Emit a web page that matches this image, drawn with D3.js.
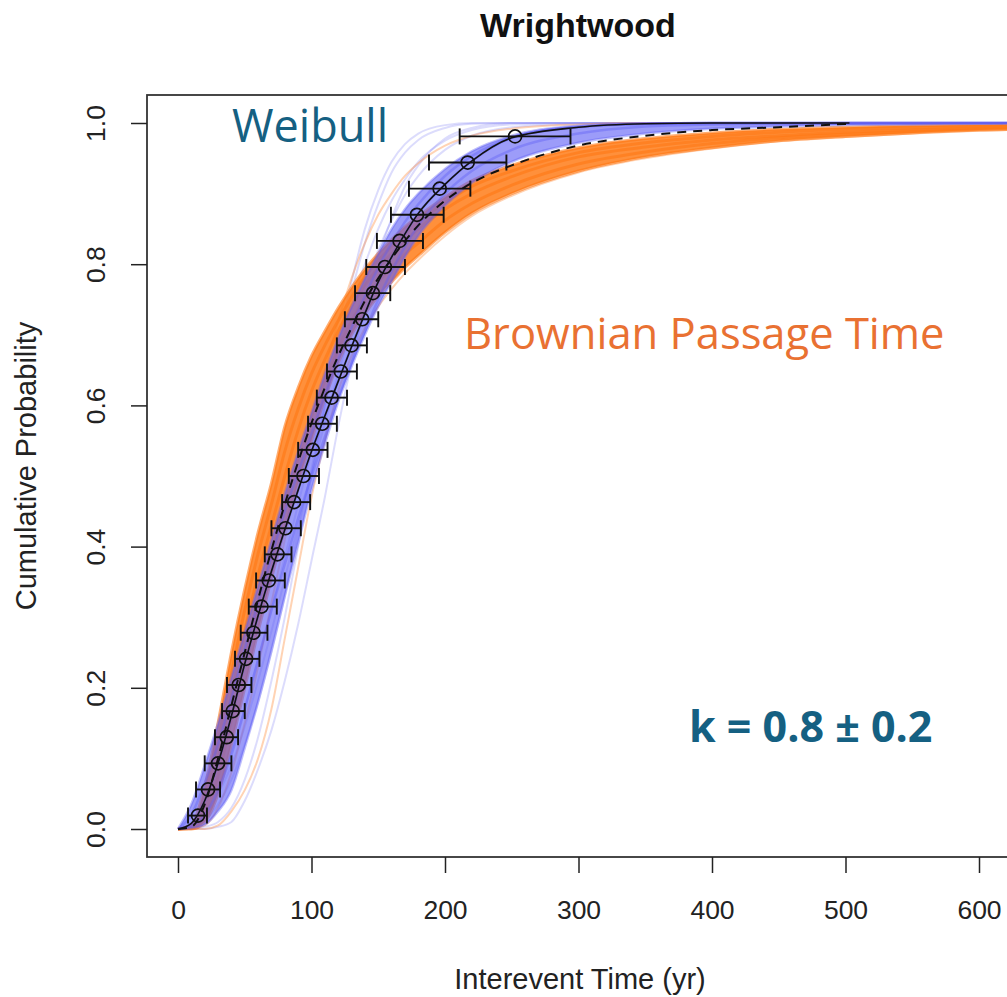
<!DOCTYPE html>
<html>
<head>
<meta charset="utf-8">
<script src="https://cdn.jsdelivr.net/npm/d3@7"></script>
<style>
  body { margin: 0; background: #fff; }
  svg { display: block; }
</style>
</head>
<body>
<div id="chart"></div>
<script>
var tGrid = [0,10,20,30,40,50,60,70,80,90,100,110,120,130,140,150,160,170,180,200,220,250,300,350,400,450,500,550,600,650,700];
// grid for the two black summary lines (they stop near 503 yr)
var tLine = [0,10,20,30,40,50,60,70,80,90,100,110,120,130,140,150,160,170,180,200,220,250,300,350,400,450,503];

// Weibull CDF samples (dense core)
var weibullCore = [
  [0,0.035,0.09,0.15,0.215,0.28,0.345,0.41,0.475,0.535,0.59,0.645,0.695,0.74,0.78,0.815,0.85,0.878,0.9,0.935,0.96,0.982,0.996,0.999,1,1,1,1,1,1,1],
  [0,0.02,0.065,0.12,0.185,0.255,0.32,0.385,0.45,0.505,0.56,0.615,0.665,0.71,0.755,0.795,0.83,0.86,0.885,0.925,0.953,0.979,0.995,0.999,1,1,1,1,1,1,1],
  [0,0.008,0.04,0.093,0.16,0.234,0.302,0.365,0.424,0.48,0.535,0.585,0.634,0.683,0.73,0.775,0.81,0.843,0.872,0.913,0.946,0.979,0.994,0.999,1,1,1,1,1,1,1],
  [0,0.004,0.02,0.055,0.105,0.17,0.24,0.31,0.375,0.44,0.5,0.555,0.61,0.66,0.705,0.75,0.79,0.825,0.855,0.9,0.932,0.962,0.985,0.995,0.998,0.999,1,1,1,1,1],
  [0,0.001,0.006,0.025,0.055,0.115,0.18,0.253,0.33,0.405,0.48,0.545,0.605,0.655,0.7,0.74,0.775,0.81,0.84,0.883,0.915,0.945,0.972,0.985,0.992,0.995,0.997,0.998,0.999,1,1]
];
// Weibull samples (faint outliers)
var weibullFaint = [
  [0,0,0.003,0.01,0.03,0.07,0.13,0.21,0.3,0.4,0.5,0.6,0.69,0.775,0.85,0.905,0.945,0.97,0.985,0.997,1,1,1,1,1,1,1,1,1,1,1],
  [0,0,0,0.003,0.01,0.04,0.085,0.14,0.21,0.29,0.38,0.47,0.57,0.66,0.74,0.81,0.865,0.91,0.94,0.978,0.993,1,1,1,1,1,1,1,1,1,1],
  [0,0.005,0.025,0.06,0.11,0.17,0.24,0.31,0.385,0.46,0.535,0.61,0.68,0.745,0.8,0.85,0.89,0.92,0.945,0.975,0.99,0.998,1,1,1,1,1,1,1,1,1],
  [0,0.002,0.012,0.035,0.07,0.12,0.18,0.25,0.33,0.42,0.51,0.6,0.68,0.76,0.83,0.885,0.93,0.958,0.976,0.993,0.999,1,1,1,1,1,1,1,1,1,1],
  [0,0.003,0.018,0.05,0.09,0.145,0.21,0.28,0.355,0.43,0.505,0.575,0.645,0.71,0.77,0.82,0.862,0.898,0.925,0.962,0.982,0.994,0.999,1,1,1,1,1,1,1,1]
];
// Brownian Passage Time samples (dense core, upper-left edge first)
var bptCore = [
  [0,0.006,0.06,0.15,0.25,0.34,0.42,0.49,0.57,0.625,0.67,0.705,0.738,0.767,0.793,0.815,0.835,0.853,0.868,0.895,0.918,0.94,0.965,0.978,0.986,0.991,0.994,0.996,0.997,0.998,0.999],
  [0,0.004,0.045,0.125,0.22,0.31,0.39,0.46,0.535,0.595,0.645,0.685,0.72,0.753,0.782,0.805,0.825,0.843,0.86,0.887,0.91,0.932,0.958,0.972,0.981,0.987,0.991,0.993,0.995,0.997,0.998],
  [0,0.002,0.03,0.1,0.19,0.28,0.36,0.43,0.5,0.565,0.62,0.665,0.705,0.74,0.77,0.795,0.815,0.833,0.85,0.878,0.9,0.924,0.952,0.966,0.976,0.982,0.987,0.99,0.993,0.995,0.996],
  [0,0.001,0.02,0.075,0.155,0.24,0.32,0.39,0.46,0.525,0.585,0.635,0.68,0.72,0.75,0.775,0.795,0.814,0.83,0.862,0.886,0.912,0.942,0.959,0.971,0.979,0.984,0.988,0.991,0.994,0.995],
  [0,0,0.01,0.05,0.12,0.2,0.28,0.355,0.425,0.49,0.55,0.61,0.66,0.7,0.73,0.755,0.775,0.795,0.812,0.845,0.872,0.9,0.932,0.952,0.965,0.975,0.981,0.986,0.99,0.992,0.994]
];
var bptFaint = [
  [0,0,0,0.005,0.025,0.055,0.1,0.17,0.27,0.37,0.47,0.55,0.62,0.67,0.71,0.74,0.765,0.787,0.806,0.84,0.868,0.897,0.93,0.95,0.964,0.974,0.98,0.985,0.989,0.992,0.994],
  [0,0,0.005,0.03,0.08,0.15,0.23,0.32,0.41,0.5,0.58,0.65,0.72,0.78,0.83,0.87,0.9,0.925,0.943,0.968,0.982,0.992,0.998,1,1,1,1,1,1,1,1]
];
// black solid (Weibull) and dashed (BPT) summary lines
var weibullMean = [0,0.008,0.04,0.093,0.16,0.234,0.302,0.365,0.424,0.48,0.535,0.585,0.634,0.683,0.73,0.775,0.81,0.843,0.872,0.913,0.946,0.979,0.994,0.999,1,1,1];
var bptMean = [0,0.003,0.035,0.1,0.175,0.25,0.325,0.395,0.46,0.52,0.575,0.625,0.67,0.71,0.748,0.78,0.808,0.833,0.855,0.89,0.915,0.94,0.968,0.982,0.99,0.994,0.999];

// interevent times with error bars
var pointProb = [0.019,0.056,0.093,0.130,0.167,0.204,0.241,0.278,0.315,0.352,0.389,0.426,0.463,0.500,0.537,0.574,0.611,0.648,0.685,0.722,0.759,0.796,0.833,0.870,0.907,0.944,0.981];
var pointTime = [15,22.5,30,36.5,41,45.5,51,56.5,62.5,68,74.5,80.5,87,94,101,108,115,122,130,138,146,155,166,179,196,217,252.5];
var errLow = [7.5,13.5,20,27.7,33,36.7,42.7,47,53,58.5,65,70,78,83,90,97.4,104,111.6,119,125,132.6,141,149,159.5,173,188,211];
var errHigh = [21.7,31.5,40,45,50,55,61,67,74,80,85,92,99,105.6,112,119,126.6,134,141.5,150,159,170,183.5,199,219,246,294];

var xTicks = [0,100,200,300,400,500,600];
var yTicks = [0,0.2,0.4,0.6,0.8,1.0];

var width = 1007, height = 997;
var svg = d3.select('#chart').append('svg')
    .attr('width', width)
    .attr('height', height);

var x = d3.scaleLinear().domain([0, 600]).range([178, 979]);
var y = d3.scaleLinear().domain([0, 1]).range([829, 123]);

var box = {left: 147, top: 95, right: 1030, bottom: 857};

svg.append('clipPath').attr('id', 'plotclip')
  .append('rect')
    .attr('x', box.left).attr('y', box.top)
    .attr('width', box.right - box.left).attr('height', box.bottom - box.top);

var plot = svg.append('g').attr('clip-path', 'url(#plotclip)');

function line(grid) {
  return d3.line()
    .x(function(d, i) { return x(grid[i]); })
    .y(function(d) { return y(d); })
    .curve(d3.curveMonotoneX);
}
var gridLine = line(tGrid);

// faint outliers behind
plot.selectAll('.wfaint').data(weibullFaint).enter().append('path')
    .attr('d', gridLine).attr('fill', 'none')
    .attr('stroke', 'rgb(130,130,245)').attr('stroke-opacity', 0.28).attr('stroke-width', 2);
plot.selectAll('.bfaint').data(bptFaint).enter().append('path')
    .attr('d', gridLine).attr('fill', 'none')
    .attr('stroke', 'rgb(255,130,40)').attr('stroke-opacity', 0.35).attr('stroke-width', 2);

// BPT band
var bptArea = d3.area()
    .x(function(d, i) { return x(tGrid[i]); })
    .y0(function(d, i) { return y(bptCore[4][i]); })
    .y1(function(d, i) { return y(bptCore[0][i]); })
    .curve(d3.curveMonotoneX);
plot.append('path').datum(bptCore[0]).attr('d', bptArea)
    .attr('fill', 'rgb(255,125,25)').attr('fill-opacity', 0.85);
plot.selectAll('.bcore').data(bptCore).enter().append('path')
    .attr('d', gridLine).attr('fill', 'none')
    .attr('stroke', 'rgb(255,120,20)').attr('stroke-opacity', 0.6).attr('stroke-width', 3);

// Weibull band
var wArea = d3.area()
    .x(function(d, i) { return x(tGrid[i]); })
    .y0(function(d, i) { return y(weibullCore[4][i]); })
    .y1(function(d, i) { return y(weibullCore[0][i]); })
    .curve(d3.curveMonotoneX);
plot.append('path').datum(weibullCore[0]).attr('d', wArea)
    .attr('fill', 'rgb(95,95,245)').attr('fill-opacity', 0.62);
plot.selectAll('.wcore').data(weibullCore).enter().append('path')
    .attr('d', gridLine).attr('fill', 'none')
    .attr('stroke', 'rgb(95,95,245)').attr('stroke-opacity', 0.4).attr('stroke-width', 2.5);

// black summary lines
var lineShort = line(tLine);
plot.append('path').datum(weibullMean).attr('d', lineShort)
    .attr('fill', 'none').attr('stroke', '#111').attr('stroke-width', 1.6);
plot.append('path').datum(bptMean).attr('d', lineShort)
    .attr('fill', 'none').attr('stroke', '#111').attr('stroke-width', 2)
    .attr('stroke-dasharray', '9,7');

// error bars and points
var pts = pointProb.map(function(p, i) {
  return {p: p, t: pointTime[i], lo: errLow[i], hi: errHigh[i]};
});
var eb = plot.selectAll('.eb').data(pts).enter().append('g').attr('stroke', '#111').attr('stroke-width', 1.9);
eb.append('line')
    .attr('x1', function(d) { return x(d.lo); }).attr('x2', function(d) { return x(d.hi); })
    .attr('y1', function(d) { return y(d.p); }).attr('y2', function(d) { return y(d.p); });
eb.append('line')
    .attr('x1', function(d) { return x(d.lo); }).attr('x2', function(d) { return x(d.lo); })
    .attr('y1', function(d) { return y(d.p) - 8; }).attr('y2', function(d) { return y(d.p) + 8; });
eb.append('line')
    .attr('x1', function(d) { return x(d.hi); }).attr('x2', function(d) { return x(d.hi); })
    .attr('y1', function(d) { return y(d.p) - 8; }).attr('y2', function(d) { return y(d.p) + 8; });
plot.selectAll('.pt').data(pts).enter().append('circle')
    .attr('cx', function(d) { return x(d.t); })
    .attr('cy', function(d) { return y(d.p); })
    .attr('r', 6.5)
    .attr('fill', 'none').attr('stroke', '#111').attr('stroke-width', 1.7);

// frame
svg.append('rect')
    .attr('x', box.left).attr('y', box.top)
    .attr('width', box.right - box.left).attr('height', box.bottom - box.top)
    .attr('fill', 'none').attr('stroke', '#333').attr('stroke-width', 1.8);

var axisFont = '"Liberation Sans", Arial, sans-serif';

// x axis
var xAxis = svg.append('g')
    .attr('transform', 'translate(0,' + box.bottom + ')')
    .call(d3.axisBottom(x).tickValues(xTicks).tickSize(16).tickPadding(27).tickFormat(d3.format('d')));
xAxis.select('.domain').remove();
xAxis.selectAll('line').attr('stroke', '#222').attr('stroke-width', 1.5);
xAxis.selectAll('text').attr('font-family', axisFont).attr('font-size', 26.5).attr('fill', '#222');

// y axis, labels parallel to the axis
var yAxis = svg.append('g')
    .attr('transform', 'translate(' + box.left + ',0)')
    .call(d3.axisLeft(y).tickValues(yTicks).tickSize(16).tickFormat(d3.format('.1f')));
yAxis.select('.domain').remove();
yAxis.selectAll('line').attr('stroke', '#222').attr('stroke-width', 1.5);
yAxis.selectAll('text')
    .attr('x', null).attr('dy', null)
    .attr('transform', 'translate(-42,0) rotate(-90)')
    .attr('text-anchor', 'middle')
    .attr('font-family', axisFont).attr('font-size', 26.5).attr('fill', '#222');

// titles
svg.append('text').attr('x', 578).attr('y', 37)
    .attr('text-anchor', 'middle').attr('font-family', axisFont)
    .attr('font-weight', 'bold').attr('font-size', 34).attr('fill', '#111')
    .text('Wrightwood');
svg.append('text').attr('x', 580).attr('y', 989)
    .attr('text-anchor', 'middle').attr('font-family', axisFont)
    .attr('font-size', 29).attr('fill', '#222')
    .text('Interevent Time (yr)');
svg.append('text').attr('transform', 'translate(36,466) rotate(-90)')
    .attr('text-anchor', 'middle').attr('font-family', axisFont)
    .attr('font-size', 29).attr('fill', '#222')
    .text('Cumulative Probability');

// annotations
var noteFont = '"Open Sans", "Noto Sans", sans-serif';
svg.append('text').attr('x', 232).attr('y', 142)
    .attr('font-family', noteFont).attr('font-size', 45).attr('fill', '#156082')
    .text('Weibull');
svg.append('text').attr('x', 464).attr('y', 349)
    .attr('font-family', noteFont).attr('font-size', 43.5).attr('fill', '#E97132')
    .text('Brownian Passage Time');
svg.append('text').attr('x', 689).attr('y', 742)
    .attr('font-family', noteFont).attr('font-weight', 'bold').attr('font-size', 43).attr('fill', '#156082')
    .text('k = 0.8 ± 0.2');
</script>
</body>
</html>
